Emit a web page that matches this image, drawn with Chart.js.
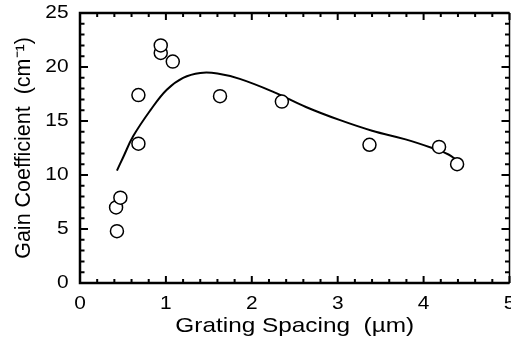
<!DOCTYPE html>
<html>
<head>
<meta charset="utf-8">
<script src="https://cdn.jsdelivr.net/npm/chart.js@4/dist/chart.umd.min.js"></script>
<style>
  html, body { margin: 0; padding: 0; background: #fff; }
  #wrap { width: 511px; height: 341px; }
</style>
</head>
<body>
<div id="wrap"><canvas id="gainChart" width="511" height="341"></canvas></div>
<script>
// measured gain vs grating spacing
const spacing = [0.43, 0.42, 0.47, 0.68, 0.68, 0.94, 0.94, 1.08, 1.63, 2.35, 3.37, 4.18, 4.39];
const gain = [4.8, 7.0, 7.9, 12.9, 17.4, 21.3, 22.0, 20.5, 17.3, 16.8, 12.8, 12.6, 11.0];

// fitted curve
const fitSpacing = [0.43, 0.5, 0.62, 0.82, 1.01, 1.2, 1.4, 1.6, 1.86, 2.25, 2.63, 3.02, 3.4, 3.79, 4.1, 4.29, 4.38];
const fitGain = [10.4, 11.6, 13.6, 16.0, 17.9, 19.0, 19.45, 19.4, 18.9, 17.7, 16.3, 15.1, 14.1, 13.3, 12.5, 11.9, 11.4];

const xTicks = [0, 1, 2, 3, 4, 5];
const yTicks = [0, 5, 10, 15, 20, 25];

const FONT = "'Liberation Sans', Arial, Helvetica, sans-serif";
const TEXT_STRETCH = 1.16;

// widen horizontal text a little (rotated text is left alone)
const stretchText = {
    id: 'stretchText',
    beforeDraw(chart) {
        const ctx = chart.ctx;
        if (ctx._stretched) return;
        const fill = ctx.fillText;
        ctx.fillText = function(text, x, y, maxWidth) {
            const m = this.getTransform();
            if (m.b !== 0 || m.c !== 0) {
                return fill.call(this, text, x, y, maxWidth);
            }
            this.save();
            this.translate(x, y);
            this.scale(TEXT_STRETCH, 1);
            fill.call(this, text, 0, 0, maxWidth);
            this.restore();
        };
        ctx._stretched = true;
    }
};

// frame plus inward major/minor ticks on all four sides
const frameTicks = {
    id: 'frameTicks',
    afterDraw(chart) {
        const ctx = chart.ctx;
        const a = chart.chartArea;
        const xs = chart.scales.x;
        const ys = chart.scales.y;
        ctx.save();
        ctx.strokeStyle = '#000';
        ctx.lineCap = 'butt';

        ctx.lineWidth = 2;
        for (let i = 0; i <= 25; i++) {
            const v = i * 0.2;
            const px = xs.getPixelForValue(v);
            const len = i % 5 === 0 ? 7 : 4;
            ctx.beginPath();
            ctx.moveTo(px, a.bottom);
            ctx.lineTo(px, a.bottom - len);
            ctx.moveTo(px, a.top);
            ctx.lineTo(px, a.top + len);
            ctx.stroke();
        }
        for (let v = 0; v <= 25; v++) {
            const py = ys.getPixelForValue(v);
            const len = v % 5 === 0 ? 8 : 4.5;
            ctx.beginPath();
            ctx.moveTo(a.left, py);
            ctx.lineTo(a.left + len, py);
            ctx.moveTo(a.right, py);
            ctx.lineTo(a.right - len, py);
            ctx.stroke();
        }

        ctx.lineWidth = 2.5;
        ctx.beginPath();
        ctx.moveTo(a.right, a.top);
        ctx.lineTo(a.left, a.top);
        ctx.lineTo(a.left, a.bottom);
        ctx.lineTo(a.right, a.bottom);
        ctx.stroke();
        ctx.lineWidth = 1.5;
        ctx.beginPath();
        ctx.moveTo(a.right, a.top);
        ctx.lineTo(a.right, a.bottom);
        ctx.stroke();
        ctx.restore();
    }
};

function noScalePadding(s) {
    s.paddingTop = 0;
    s.paddingBottom = 0;
    s.paddingLeft = 0;
    s.paddingRight = 0;
}

new Chart(document.getElementById('gainChart'), {
    type: 'scatter',
    data: {
        datasets: [{
            label: 'Measured',
            data: spacing.map((x, i) => ({ x: x, y: gain[i] })),
            pointStyle: 'circle',
            pointRadius: 6.5,
            borderColor: '#000',
            borderWidth: 1.5,
            backgroundColor: '#fff',
            order: 0
        }, {
            label: 'Fit',
            data: fitSpacing.map((x, i) => ({ x: x, y: fitGain[i] })),
            showLine: true,
            tension: 0.4,
            borderColor: '#000',
            borderWidth: 2,
            pointRadius: 0,
            order: 1
        }]
    },
    options: {
        responsive: false,
        animation: false,
        events: [],
        layout: { autoPadding: false, padding: { left: 0, right: 1.5, top: 13, bottom: 0 } },
        plugins: {
            legend: { display: false },
            tooltip: { enabled: false }
        },
        scales: {
            x: {
                type: 'linear',
                min: 0,
                max: 5,
                afterBuildTicks: s => { s.ticks = xTicks.map(v => ({ value: v })); },
                afterFit: s => { s.height = 58; noScalePadding(s); },
                grid: { display: false, drawTicks: false },
                border: { display: false },
                ticks: {
                    color: '#000',
                    padding: 10,
                    maxRotation: 0,
                    font: { family: FONT, size: 18 }
                },
                title: {
                    display: true,
                    text: 'Grating Spacing  (\u00b5m)',
                    color: '#000',
                    padding: { top: 0, bottom: 2.5 },
                    font: { family: FONT, size: 21 }
                }
            },
            y: {
                min: 0,
                max: 25,
                afterBuildTicks: s => { s.ticks = yTicks.map(v => ({ value: v })); },
                afterFit: s => { s.width = 80; noScalePadding(s); },
                grid: { display: false, drawTicks: false },
                border: { display: false },
                ticks: {
                    color: '#000',
                    padding: 11.5,
                    font: { family: FONT, size: 18 }
                },
                title: {
                    display: true,
                    text: 'Gain Coefficient  (cm\u207b\u00b9)',
                    color: '#000',
                    padding: { top: 11, bottom: 0 },
                    font: { family: FONT, size: 21.5 }
                }
            }
        }
    },
    plugins: [stretchText, frameTicks]
});
</script>
</body>
</html>
